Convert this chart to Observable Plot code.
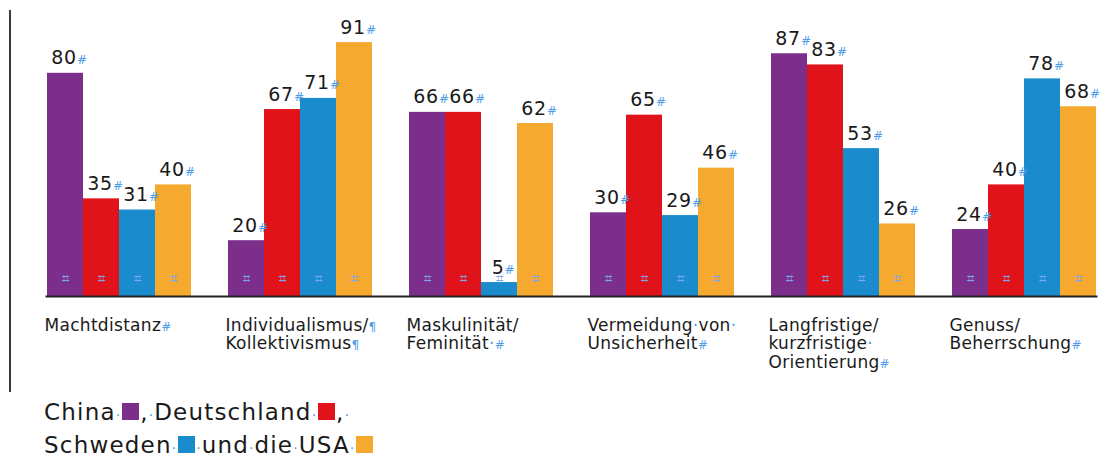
<!DOCTYPE html>
<html><head><meta charset="utf-8">
<script src="https://cdn.jsdelivr.net/npm/d3@7"></script>
<script src="https://cdn.jsdelivr.net/npm/@observablehq/plot@0.6"></script>
<style>
body{margin:0;background:#fff;font-family:"DejaVu Sans",sans-serif;}
#wrap{position:relative;width:1105px;height:459px;overflow:hidden;background:#fff}
#chart{position:absolute;left:0;top:0}
#vline{position:absolute;left:9px;top:10px;width:2px;height:382px;background:#3a3a3a}
.legline{position:absolute;left:44px;font-size:23px;line-height:22px;color:#1a1a1a;letter-spacing:1.2px;white-space:nowrap}
.sq{display:inline-block;width:17px;height:17px;vertical-align:baseline;margin:0 1px}
.fm{color:#4f9de8;font-size:14px;letter-spacing:1px}
</style>
</head><body>
<div id="wrap">
  <div id="chart"></div>
  <div id="vline"></div>
  <div id="leg1" class="legline" style="top:401px"></div>
  <div id="leg2" class="legline" style="top:434px"></div>
</div>
<script>
const categories = ["Machtdistanz","Individualismus/Kollektivismus","Maskulinität/Feminität","Vermeidung von Unsicherheit","Langfristige/kurzfristige Orientierung","Genuss/Beherrschung"];
const categoryLabels = ["Machtdistanz#","Individualismus/¶\nKollektivismus¶","Maskulinität/\nFeminität·#","Vermeidung·von·\nUnsicherheit#","Langfristige/\nkurzfristige·\nOrientierung#","Genuss/\nBeherrschung#"];
const countries = ["China","Deutschland","Schweden","USA"];
const colors = ["#7b2f8a","#e1131a","#1a8bcc","#f6a92f"];
const china = [80,20,66,30,87,24];
const deutschland = [35,67,66,65,83,40];
const schweden = [31,71,5,29,53,78];
const usa = [40,91,62,46,26,68];
const series = [china, deutschland, schweden, usa];

const rows = [];
categories.forEach((c,i)=>countries.forEach((k,j)=>rows.push({category:c, country:k, value:series[j][i]})));
const cats = categories.map((c,i)=>({category:c, label:categoryLabels[i]}));

const chart = Plot.plot({
  width:1105, height:395,
  marginLeft:43, marginRight:7, marginTop:17, marginBottom:99,
  fx:{domain:categories, paddingInner:0.2, paddingOuter:0, axis:null, label:null},
  x:{domain:countries, padding:0, axis:null},
  y:{domain:[0,100], axis:null},
  color:{domain:countries, range:colors},
  style:{fontFamily:"DejaVu Sans, sans-serif", background:"white", overflow:"visible"},
  marks:[
    Plot.barY(rows,{fx:"category", x:"country", y:"value", fill:"country"}),
    Plot.text(rows,{fx:"category", x:"country", text:()=>"⌗", frameAnchor:"bottom", dy:-14, fill:"#7aa6f2", fontSize:13}),
    Plot.frame({anchor:"bottom", stroke:"#222", strokeWidth:2, facet:"super"}),
    Plot.text(rows,{fx:"category", x:"country", y:"value", text:d=>d.value+"#", lineAnchor:"bottom", dy:-9, dx:4, fontSize:19, fill:"#1a1a1a"}),
    Plot.text(cats,{fx:"category", text:"label", frameAnchor:"bottom-left", textAnchor:"start", lineAnchor:"top", dy:21, dx:-2, lineHeight:1.1, fontSize:17, fill:"#1a1a1a"})
  ]
});
document.getElementById("chart").appendChild(chart);

// style formatting marks (#, ¶, ·) in light blue within labels
const markRe = /[#¶·]/;
const NS="http://www.w3.org/2000/svg";
chart.querySelectorAll("text").forEach(textEl=>{
  const full = textEl.textContent;
  if(!/[0-9A-Za-zäöü]/.test(full)) return; // bottom markers
  const isValue = /^\d+#$/.test(full);
  textEl.style.letterSpacing = isValue ? "0.8px" : "0.3px";
  const walker = document.createTreeWalker(textEl, NodeFilter.SHOW_TEXT);
  const nodes=[]; let n;
  while((n=walker.nextNode())) if(markRe.test(n.nodeValue)) nodes.push(n);
  nodes.forEach(node=>{
    const parent=node.parentNode;
    const parts=node.nodeValue.split(/([#¶·])/);
    const frag=document.createDocumentFragment();
    parts.forEach(p=>{
      if(!p) return;
      if(markRe.test(p)){
        const t=document.createElementNS(NS,"tspan");
        t.setAttribute("fill","#4f9de8");
        t.setAttribute("font-size", p==="·" ? "17" : "12");
        t.textContent=p;
        frag.appendChild(t);
      } else frag.appendChild(document.createTextNode(p));
    });
    parent.replaceChild(frag,node);
  });
});

// legend
const sq = i=>`<span class="sq" style="background:${colors[i]}"></span>`;
const dot = `<span class="fm">·</span>`;
document.getElementById("leg1").innerHTML = `China${dot}${sq(0)},${dot}Deutschland${dot}${sq(1)},${dot}`;
document.getElementById("leg2").innerHTML = `Schweden${dot}${sq(2)}${dot}und${dot}die${dot}USA${dot}${sq(3)}`;
</script>
</body></html>
